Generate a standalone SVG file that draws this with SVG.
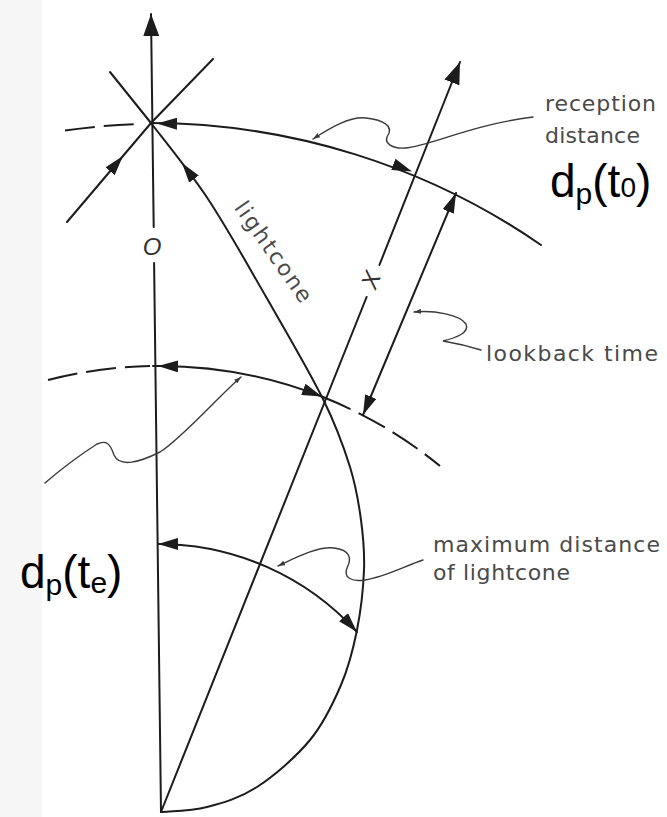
<svg xmlns="http://www.w3.org/2000/svg" width="667" height="817" viewBox="0 0 667 817">
<style>
.ln{fill:none;stroke:#1c1c1c;stroke-width:2;stroke-linecap:round}
.dash{fill:none;stroke:#1c1c1c;stroke-width:2;stroke-dasharray:30 9}
.ld{fill:none;stroke:#3a3a3a;stroke-width:1.4;stroke-linecap:round}
.tip{fill:none;stroke:none}
.lab{font-family:"DejaVu Sans","Liberation Sans",sans-serif;font-size:22px;fill:#4a4a4a}
.big{font-family:"Liberation Sans",Arial,sans-serif;font-size:46px;fill:#000}
.it{font-family:"Liberation Sans",Arial,sans-serif;font-style:italic;font-size:24px;fill:#333}
</style>
<defs>
<marker id="ah" viewBox="0 0 20 12" refX="20" refY="6" markerWidth="20" markerHeight="12" markerUnits="userSpaceOnUse" orient="auto-start-reverse"><path d="M0,0 L20,6 L0,12 Z" fill="#1c1c1c"/></marker>
<marker id="ahb" viewBox="0 0 22 16" refX="22" refY="8" markerWidth="22" markerHeight="16" markerUnits="userSpaceOnUse" orient="auto-start-reverse"><path d="M0,0 L22,8 L0,16 Z" fill="#1c1c1c"/></marker>
<marker id="sm" viewBox="0 0 7 5" refX="7" refY="2.5" markerWidth="7" markerHeight="5" markerUnits="userSpaceOnUse" orient="auto-start-reverse"><path d="M0,0 L7,2.5 L0,5 Z" fill="#3a3a3a"/></marker>
</defs>
<rect x="0" y="0" width="667" height="817" fill="#fff"/>
<rect x="0" y="0" width="42" height="817" fill="#f6f6f6"/>

<g id="observer-axis">
<path class="ln" d="M153.7,227 L151,14" marker-end="url(#ahb)"/>
<path class="ln" d="M154.1,263 L161,812"/>
<text class="it" x="152" y="255" text-anchor="middle">O</text>
</g>

<g id="source-worldline">
<path class="ln" d="M161,812 L366.6,297"/>
<path class="ln" d="M379.4,265 L460,62" marker-end="url(#ahb)"/>
<text class="it" transform="translate(371,280) rotate(-68)" x="0" y="8" text-anchor="middle">X</text>
</g>

<g id="lightcone">
<path class="ln" d="M110,72 L151,123"/>
<path class="ln" d="M151,123 C160.5,135.7 189,170.3 208,199 C227,227.7 245.8,261.7 265,295 C284.2,328.3 308.8,370.3 323,399 C337.2,427.7 343.7,446.8 350,467 C356.3,487.2 358.7,502.8 361,520 C363.3,537.2 364.7,551.7 364,570 C363.3,588.3 360.8,610.8 357,630 C353.2,649.2 348.8,666.7 341,685 C333.2,703.3 324,723 310,740 C296,757 274.2,775.8 257,787 C239.8,798.2 223,802.8 207,807 C191,811.2 168.7,811.2 161,812"/>
<text class="lab" transform="translate(273,252) rotate(55)" x="0" y="7" text-anchor="middle" textLength="118" lengthAdjust="spacing">lightcone</text>
</g>

<g id="star">
<path class="ln" d="M67,222 L151,123 L213,59"/>
</g>

<g id="reception-surface">
<path class="dash" d="M65,130.5 A688,688 0 0 1 140,124"/>
<path class="ln" d="M151,123 A688,688 0 0 1 541,245"/>
</g>

<g id="emission-surface">
<path class="dash" d="M48,380 A446,446 0 0 1 150,366"/>
<path class="ln" d="M153,366 A446,446 0 0 1 323,397"/>
<path class="dash" d="M323,397 A446,446 0 0 1 440,466"/>
</g>

<g id="connectors">
<path class="tip" d="M194,179 L182,163" marker-end="url(#ah)"/>
<path class="tip" d="M90,195 L123,156" marker-end="url(#ah)"/>
<path class="tip" d="M175,123.7 L157,123.5" marker-end="url(#ah)"/>
<path class="tip" d="M395,165 L412,171.5" marker-end="url(#ah)"/>
<path class="tip" d="M175,366.3 L158,366" marker-end="url(#ah)"/>
<path class="tip" d="M305,390 L322,396.5" marker-end="url(#ah)"/>
<path class="ln" d="M456,193 L363,415" marker-start="url(#ah)" marker-end="url(#ah)"/>
<path class="ln" d="M158,544 A268,268 0 0 1 357,632" marker-start="url(#ah)" marker-end="url(#ah)"/>
</g>

<g id="leaders">
<path class="ld" d="M313,139 C330,128 350,116 366,118 C385,120 393,127 388,135 C383,143 392,149 405,148 C430,146 470,125 533,117" marker-start="url(#sm)"/>
<path class="ld" d="M414,312 C435,310 460,315 466,324 C470,333 455,338 443,341 C455,343 468,346 481,350" marker-start="url(#sm)"/>
<path class="ld" d="M241,377 C220,395 180,440 160,452 C140,462 120,468 114,455 C110,443 106,440 97,444 C80,455 60,470 45,483" marker-start="url(#sm)"/>
<path class="ld" d="M278,566 C295,558 318,546 334,548 C350,550 352,558 347,568 C343,578 352,582 365,580 C385,577 405,566 423,560" marker-start="url(#sm)"/>
</g>

<g id="labels">
<text class="lab" x="545" y="111" textLength="111" lengthAdjust="spacing">reception</text>
<text class="lab" x="545" y="143" textLength="95" lengthAdjust="spacing">distance</text>
<text class="lab" x="486" y="361" textLength="172" lengthAdjust="spacing">lookback time</text>
<text class="lab" x="433" y="552" textLength="227" lengthAdjust="spacing">maximum distance</text>
<text class="lab" x="433" y="580" textLength="137" lengthAdjust="spacing">of lightcone</text>
<text class="big" x="550" y="197">d<tspan font-size="30" dy="7">p</tspan><tspan dy="-7">(t</tspan><tspan font-size="28">0</tspan>)</text>
<text class="big" x="20" y="588">d<tspan font-size="30" dy="7">p</tspan><tspan dy="-7">(t</tspan><tspan font-size="30" dy="5">e</tspan><tspan dy="-5">)</tspan></text>
</g>
</svg>
